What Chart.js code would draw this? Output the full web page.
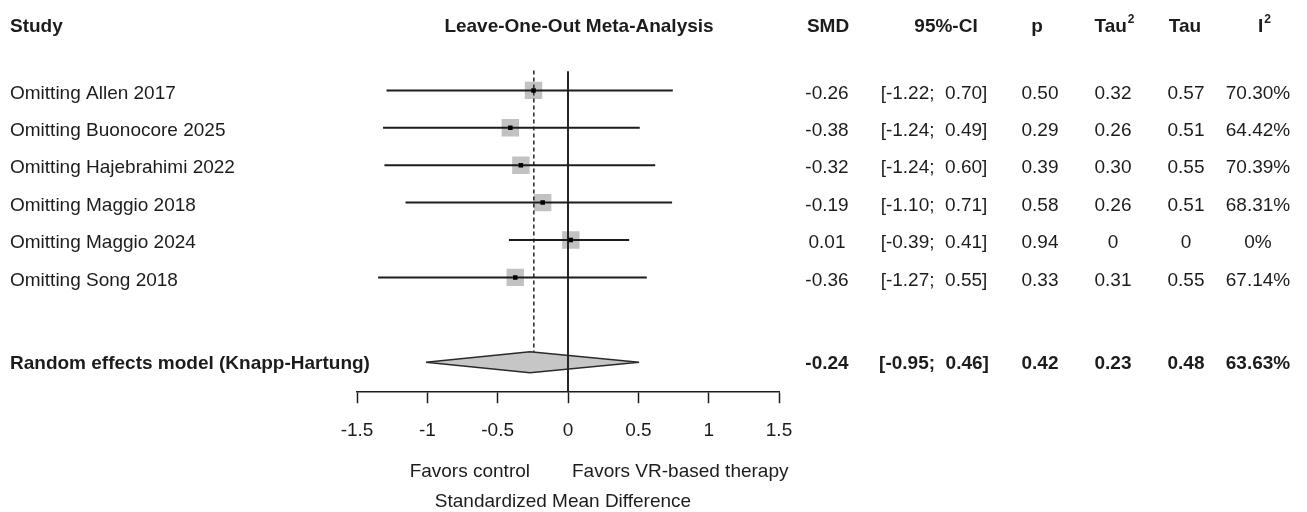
<!DOCTYPE html>
<html lang="en">
<head>
  <meta charset="UTF-8">
  <title>Leave-One-Out Meta-Analysis</title>
  <script src="https://cdn.jsdelivr.net/npm/chart.js"></script>
  <style>
    body { margin: 0; background: #fff; }
  </style>
</head>
<body>
  <canvas id="forest" width="1307" height="512"></canvas>

  <script>
    // studies (one row each)
    const studies = ['Omitting Allen 2017', 'Omitting Buonocore 2025', 'Omitting Hajebrahimi 2022',
      'Omitting Maggio 2018', 'Omitting Maggio 2024', 'Omitting Song 2018'];
    // plotted estimate and interval ends, as drawn in the picture
    const smd = [-0.245, -0.41, -0.335, -0.18, 0.02, -0.375];
    const ciLow = [-1.29, -1.315, -1.305, -1.155, -0.42, -1.35];
    const ciHigh = [0.745, 0.51, 0.62, 0.74, 0.435, 0.56];
    // pooled diamond: low, centre, high  + dashed reference line
    const pooledPlot = [-1.01, -0.27, 0.505];
    const pooledLine = -0.243;

    // table columns
    const smdText = ['-0.26', '-0.38', '-0.32', '-0.19', '0.01', '-0.36'];
    const ciText = ['[-1.22;  0.70]', '[-1.24;  0.49]', '[-1.24;  0.60]', '[-1.10;  0.71]', '[-0.39;  0.41]', '[-1.27;  0.55]'];
    const pText = ['0.50', '0.29', '0.39', '0.58', '0.94', '0.33'];
    const tau2Text = ['0.32', '0.26', '0.30', '0.26', '0', '0.31'];
    const tauText = ['0.57', '0.51', '0.55', '0.51', '0', '0.55'];
    const i2Text = ['70.30%', '64.42%', '70.39%', '68.31%', '0%', '67.14%'];
    const pooledText = ['-0.24', '[-0.95;  0.46]', '0.42', '0.23', '0.48', '63.63%'];

    const xTicks = [-1.5, -1, -0.5, 0, 0.5, 1, 1.5];

    const FONT = "'Liberation Sans', Arial, sans-serif";
    const INK = '#1c1c1c';
    const rowY = studies.map((s, i) => i + 1);
    const pooledY = 8.27;

    // column centres on the right
    const cols = [827, 934, 1040, 1113, 1186, 1258];

    const datasets = [];

    // confidence interval lines
    studies.forEach((s, i) => {
      datasets.push({
        data: [{ x: ciLow[i], y: rowY[i] }, { x: ciHigh[i], y: rowY[i] }],
        showLine: true, borderColor: INK, borderWidth: 2, pointRadius: 0, order: 1
      });
    });

    // small black mark at estimate
    datasets.push({
      data: smd.map((v, i) => ({ x: v, y: rowY[i] })),
      pointStyle: 'rect', pointRadius: 3.2, backgroundColor: '#000', borderWidth: 0, order: 0
    });

    // grey squares
    datasets.push({
      data: smd.map((v, i) => ({ x: v, y: rowY[i] })),
      pointStyle: 'rect', pointRadius: 12.3, backgroundColor: '#c2c2c2', borderWidth: 0, order: 5
    });

    // line of no effect
    datasets.push({
      data: [{ x: 0, y: 0.49 }, { x: 0, y: 9.1 }],
      showLine: true, borderColor: '#262626', borderWidth: 2, pointRadius: 0, order: 2
    });

    // dashed pooled estimate
    datasets.push({
      data: [{ x: pooledLine, y: 0.47 }, { x: pooledLine, y: pooledY - 0.27 }],
      showLine: true, borderColor: '#333', borderWidth: 1.6, borderDash: [4, 3], pointRadius: 0, order: 2
    });

    // diamond
    datasets.push({
      data: [
        { x: pooledPlot[0], y: pooledY },
        { x: pooledPlot[1], y: pooledY - 0.28 },
        { x: pooledPlot[2], y: pooledY },
        { x: pooledPlot[1], y: pooledY + 0.28 },
        { x: pooledPlot[0], y: pooledY }
      ],
      showLine: true, fill: 'shape', backgroundColor: '#c6c6c6', borderColor: '#2a2a2a',
      borderWidth: 1.5, pointRadius: 0, tension: 0, order: 6
    });

    function txt(ctx, s, x, y, align, bold, size) {
      ctx.font = (bold ? 'bold ' : '') + (size || 19) + 'px ' + FONT;
      ctx.textAlign = align;
      ctx.fillText(s, x, y);
    }

    // header with superscript 2, centred at cx
    function supHeader(ctx, base, cx, y) {
      ctx.font = 'bold 19px ' + FONT;
      const w1 = ctx.measureText(base).width;
      ctx.font = 'bold 12px ' + FONT;
      const w2 = ctx.measureText('2').width;
      const x0 = cx - (w1 + w2) / 2;
      txt(ctx, base, x0, y, 'left', true);
      txt(ctx, '2', x0 + w1 + 1, y - 7, 'left', true, 12);
    }

    const tablePlugin = {
      id: 'table',
      afterDraw(chart) {
        const ctx = chart.ctx;
        const ys = chart.scales.y;
        ctx.save();
        ctx.fillStyle = INK;
        ctx.textBaseline = 'middle';

        // headers
        const hy = 27;
        txt(ctx, 'Study', 10, hy, 'left', true);
        txt(ctx, 'Leave-One-Out Meta-Analysis', 579, hy, 'center', true);
        txt(ctx, 'SMD', 828, hy, 'center', true);
        txt(ctx, '95%-CI', 946, hy, 'center', true);
        txt(ctx, 'p', 1037, hy, 'center', true);
        supHeader(ctx, 'Tau', 1114, hy);
        txt(ctx, 'Tau', 1185, hy, 'center', true);
        supHeader(ctx, 'I', 1264, hy);

        // study rows
        studies.forEach((s, i) => {
          const y = ys.getPixelForValue(rowY[i]) + 3;
          txt(ctx, s, 10, y, 'left', false);
          [smdText, ciText, pText, tau2Text, tauText, i2Text].forEach((col, c) => {
            txt(ctx, col[i], cols[c], y, 'center', false);
          });
        });

        // pooled row
        const py = ys.getPixelForValue(pooledY) + 1;
        txt(ctx, 'Random effects model (Knapp-Hartung)', 10, py, 'left', true);
        pooledText.forEach((v, c) => txt(ctx, v, cols[c], py, 'center', true));

        // bottom labels
        txt(ctx, 'Favors control', 530, 472, 'right', false);
        txt(ctx, 'Favors VR-based therapy', 572, 472, 'left', false);
        txt(ctx, 'Standardized Mean Difference', 563, 502, 'center', false);
        ctx.restore();
      }
    };

    Chart.defaults.font.family = FONT;
    Chart.defaults.color = INK;

    new Chart(document.getElementById('forest'), {
      type: 'scatter',
      data: { datasets: datasets },
      options: {
        responsive: false,
        animation: false,
        layout: { padding: { left: 357, right: 528, top: 53, bottom: 54 } },
        plugins: { legend: { display: false }, tooltip: { enabled: false } },
        scales: {
          x: {
            type: 'linear', min: -1.5, max: 1.5,
            afterBuildTicks: s => { s.ticks = xTicks.map(v => ({ value: v })); },
            ticks: { font: { size: 19 }, color: INK, padding: 16, maxRotation: 0,
              callback: v => String(v) },
            grid: { drawOnChartArea: false, drawTicks: true, tickLength: 11, tickColor: INK, tickWidth: 1.5 },
            border: { display: true, color: INK, width: 1.5 }
          },
          y: {
            type: 'linear', reverse: true, min: 0, max: 9.07, display: false
          }
        }
      },
      plugins: [tablePlugin]
    });
  </script>
</body>
</html>
